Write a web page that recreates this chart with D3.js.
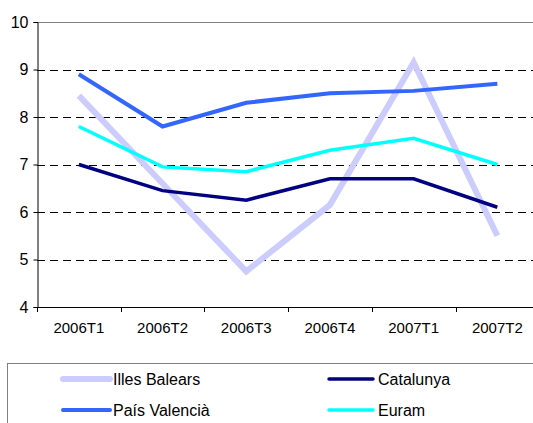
<!DOCTYPE html><html>
<head>
    <meta charset="utf-8">
    <style>
        body { margin: 0; background: #fff; }
        text { font-family: "Liberation Sans", Arial, sans-serif; fill: #000; }
    </style>
</head>
<body>
    <script src="https://cdn.jsdelivr.net/npm/d3@7/dist/d3.min.js"></script>
    <script>
        var periods = ['2006T1', '2006T2', '2006T3', '2006T4', '2007T1', '2007T2'];
        var yTicks = [4, 5, 6, 7, 8, 9, 10];

        var balears = [8.45, 6.6, 4.75, 6.15, 9.15, 5.5];
        var catalunya = [7.0, 6.45, 6.25, 6.7, 6.7, 6.1];
        var valencia = [8.9, 7.8, 8.3, 8.5, 8.55, 8.7];
        var euram = [7.8, 6.95, 6.85, 7.3, 7.55, 7.0];

        var series = [
            {name: 'Illes Balears', values: balears, color: '#ccccff', w: 6},
            {name: 'Catalunya', values: catalunya, color: '#000080', w: 3.5},
            {name: 'País Valencià', values: valencia, color: '#3366ff', w: 4},
            {name: 'Euram', values: euram, color: '#00ffff', w: 3.5}
        ];

        var width = 533, height = 423;
        var plotLeft = 37, plotTop = 22, plotBottom = 307, bandW = 83.7;

        var svg = d3.select('body').append('svg')
            .attr('width', width)
            .attr('height', height);

        var x = d3.scaleBand()
            .domain(periods)
            .range([plotLeft, plotLeft + bandW * periods.length]);

        var y = d3.scaleLinear()
            .domain([4, 10])
            .range([plotBottom, plotTop]);

        // grid lines
        svg.selectAll('.grid')
            .data(yTicks.filter(function(d) { return d > 4 && d < 10; }))
            .enter().append('line')
            .attr('x1', plotLeft).attr('x2', width)
            .attr('y1', function(d) { return Math.round(y(d)) + 0.5; })
            .attr('y2', function(d) { return Math.round(y(d)) + 0.5; })
            .attr('stroke', '#000')
            .attr('stroke-dasharray', '8,5');

        // top border of plot area
        svg.append('line')
            .attr('x1', plotLeft).attr('x2', width)
            .attr('y1', Math.round(y(10)) + 0.5).attr('y2', Math.round(y(10)) + 0.5)
            .attr('stroke', '#808080');

        // y axis
        var yAxis = svg.append('g')
            .attr('transform', 'translate(' + (plotLeft + 0.5) + ',0)')
            .call(d3.axisLeft(y).tickValues(yTicks).tickSize(4).tickPadding(5).tickFormat(d3.format('d')));
        yAxis.select('.domain').attr('stroke', '#000');
        yAxis.selectAll('text').style('font-size', '16px');

        // x axis
        var xAxis = svg.append('g')
            .attr('transform', 'translate(0,' + (plotBottom + 0.5) + ')')
            .call(d3.axisBottom(x).tickSize(0).tickPadding(15));
        xAxis.select('.domain').remove();
        xAxis.selectAll('text').style('font-size', '15px');
        svg.append('line')
            .attr('x1', plotLeft).attr('x2', width)
            .attr('y1', plotBottom + 0.5).attr('y2', plotBottom + 0.5)
            .attr('stroke', '#000');
        svg.selectAll('.xtick')
            .data(periods)
            .enter().append('line')
            .attr('x1', function(d) { return Math.round(x(d)) + 0.5; })
            .attr('x2', function(d) { return Math.round(x(d)) + 0.5; })
            .attr('y1', plotBottom).attr('y2', plotBottom + 5)
            .attr('stroke', '#000');

        var line = d3.line()
            .x(function(d, i) { return x(periods[i]) + x.bandwidth() / 2; })
            .y(function(d) { return y(d); });

        svg.selectAll('.series')
            .data(series)
            .enter().append('path')
            .attr('d', function(d) { return line(d.values); })
            .attr('fill', 'none')
            .attr('stroke', function(d) { return d.color; })
            .attr('stroke-width', function(d) { return d.w; })
            .attr('stroke-linejoin', 'miter');

        // legend
        svg.append('rect')
            .attr('x', 7.5).attr('y', 363.5)
            .attr('width', 540).attr('height', 80)
            .attr('fill', 'none')
            .attr('stroke', '#808080');

        var leg = svg.selectAll('.leg')
            .data(series)
            .enter().append('g')
            .attr('transform', function(d, i) {
                return 'translate(' + (i % 2 ? 329 : 63) + ',' + (i < 2 ? 379 : 410) + ')';
            });
        leg.append('line')
            .attr('x1', 0).attr('x2', function(d, i) { return i % 2 ? 44 : 47; })
            .attr('stroke', function(d) { return d.color; })
            .attr('stroke-width', function(d) { return d.w; })
            .attr('stroke-linecap', 'round');
        leg.append('text')
            .attr('x', function(d, i) { return i % 2 ? 49 : 50; })
            .attr('dy', '0.36em')
            .style('font-size', '16px')
            .text(function(d) { return d.name; });
    </script>
</body></html>
